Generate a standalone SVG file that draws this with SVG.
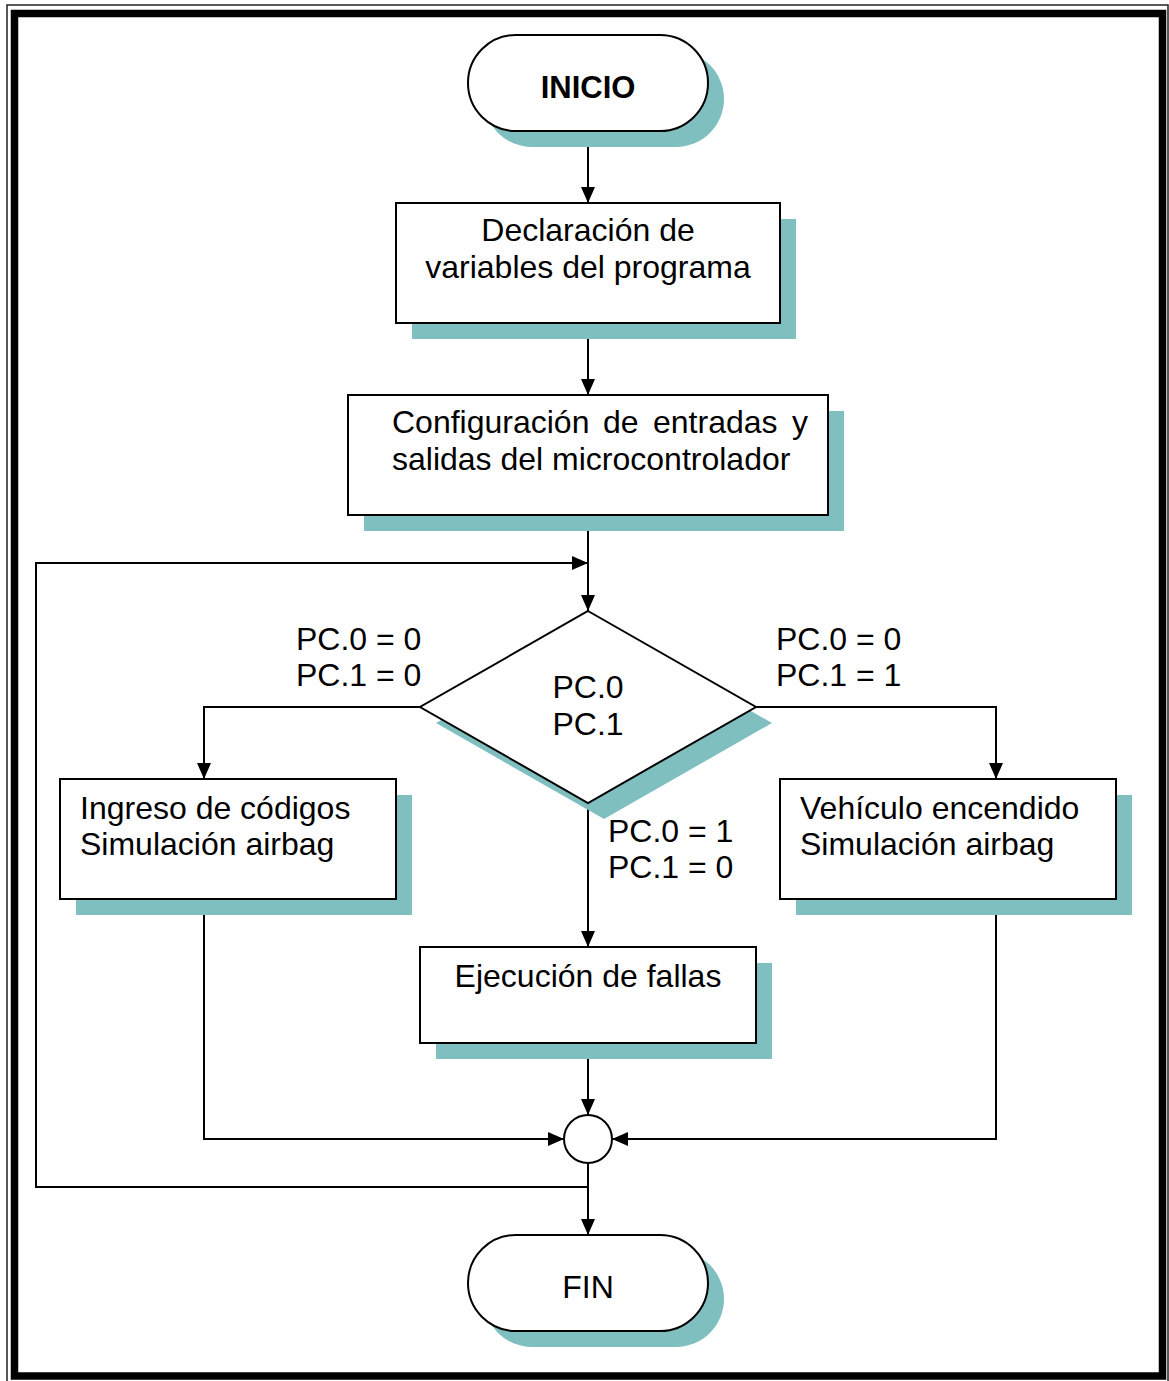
<svg xmlns="http://www.w3.org/2000/svg" width="1169" height="1381" viewBox="0 0 1169 1381">
  <defs>
    <marker id="arrow" markerUnits="userSpaceOnUse" markerWidth="16" markerHeight="14" refX="16" refY="7" orient="auto">
      <path d="M0,0 L16,7 L0,14 Z" fill="#000"/>
    </marker>
    <style>
      .shape { fill: #fff; stroke: #000; stroke-width: 2; }
      .shadow { fill: #80bfbf; stroke: none; }
      .conn { fill: none; stroke: #000; stroke-width: 2; }
      .t { font-family: "Liberation Sans", Arial, sans-serif; font-size: 32px; fill: #000; }
      .c { text-anchor: middle; }
      .b { font-weight: bold; font-size: 31px; }
    </style>
  </defs>

  <rect width="1169" height="1381" fill="#fff"/>

  <!-- page frame: thin outer rule plus thick inner rule -->
  <rect x="7" y="5" width="1161" height="1390" fill="none" stroke="#222" stroke-width="1.5"/>
  <rect x="14.5" y="13.5" width="1148" height="1362.5" fill="none" stroke="#000" stroke-width="7.5"/>

  <!-- connectors -->
  <g id="connectors">
    <path class="conn" d="M588,131 V203" marker-end="url(#arrow)"/>
    <path class="conn" d="M588,323 V395" marker-end="url(#arrow)"/>
    <path class="conn" d="M588,515 V611" marker-end="url(#arrow)"/>
    <path class="conn" d="M588,1187 H36 V563 H588" marker-end="url(#arrow)"/>
    <path class="conn" d="M420,707 H204 V779" marker-end="url(#arrow)"/>
    <path class="conn" d="M756,707 H996 V779" marker-end="url(#arrow)"/>
    <path class="conn" d="M588,803 V947" marker-end="url(#arrow)"/>
    <path class="conn" d="M588,1043 V1115" marker-end="url(#arrow)"/>
    <path class="conn" d="M204,899 V1139 H564" marker-end="url(#arrow)"/>
    <path class="conn" d="M996,899 V1139 H612" marker-end="url(#arrow)"/>
    <path class="conn" d="M588,1163 V1235" marker-end="url(#arrow)"/>
  </g>

  <!-- branch labels -->
  <g id="labels" class="t">
    <text x="296" y="650">PC.0 = 0</text>
    <text x="296" y="686">PC.1 = 0</text>
    <text x="776" y="650">PC.0 = 0</text>
    <text x="776" y="686">PC.1 = 1</text>
    <text x="608" y="842">PC.0 = 1</text>
    <text x="608" y="878">PC.1 = 0</text>
  </g>

  <g id="inicio">
    <rect class="shadow" x="484" y="51" width="240" height="96" rx="48"/>
    <rect class="shape" x="468" y="35" width="240" height="96" rx="48"/>
    <text class="t c b" x="588" y="98">INICIO</text>
  </g>

  <g id="declaracion">
    <rect class="shadow" x="412" y="219" width="384" height="120"/>
    <rect class="shape" x="396" y="203" width="384" height="120"/>
    <text class="t c" x="588" y="241">Declaración de</text>
    <text class="t c" x="588" y="278">variables del programa</text>
  </g>

  <g id="configuracion">
    <rect class="shadow" x="364" y="411" width="480" height="120"/>
    <rect class="shape" x="348" y="395" width="480" height="120"/>
    <!-- first line is justified: words placed one by one -->
    <text class="t" y="433"><tspan x="392">Configuración</tspan><tspan x="603">de</tspan><tspan x="653">entradas</tspan><tspan x="792">y</tspan></text>
    <text class="t" x="392" y="470">salidas del microcontrolador</text>
  </g>

  <g id="decision">
    <polygon class="shadow" points="604,627 772,723 604,819 436,723"/>
    <polygon class="shape" points="588,611 756,707 588,803 420,707"/>
    <text class="t c" x="588" y="698">PC.0</text>
    <text class="t c" x="588" y="735">PC.1</text>
  </g>

  <g id="ingreso">
    <rect class="shadow" x="76" y="795" width="336" height="120"/>
    <rect class="shape" x="60" y="779" width="336" height="120"/>
    <text class="t" x="80" y="819">Ingreso de códigos</text>
    <text class="t" x="80" y="855">Simulación airbag</text>
  </g>

  <g id="vehiculo">
    <rect class="shadow" x="796" y="795" width="336" height="120"/>
    <rect class="shape" x="780" y="779" width="336" height="120"/>
    <text class="t" x="800" y="819">Vehículo encendido</text>
    <text class="t" x="800" y="855">Simulación airbag</text>
  </g>

  <g id="ejecucion">
    <rect class="shadow" x="436" y="963" width="336" height="96"/>
    <rect class="shape" x="420" y="947" width="336" height="96"/>
    <text class="t c" x="588" y="987">Ejecución de fallas</text>
  </g>

  <g id="union">
    <circle class="shape" cx="588" cy="1139" r="24"/>
  </g>

  <g id="fin">
    <rect class="shadow" x="484" y="1251" width="240" height="96" rx="48"/>
    <rect class="shape" x="468" y="1235" width="240" height="96" rx="48"/>
    <text class="t c" x="588" y="1298">FIN</text>
  </g>
</svg>
